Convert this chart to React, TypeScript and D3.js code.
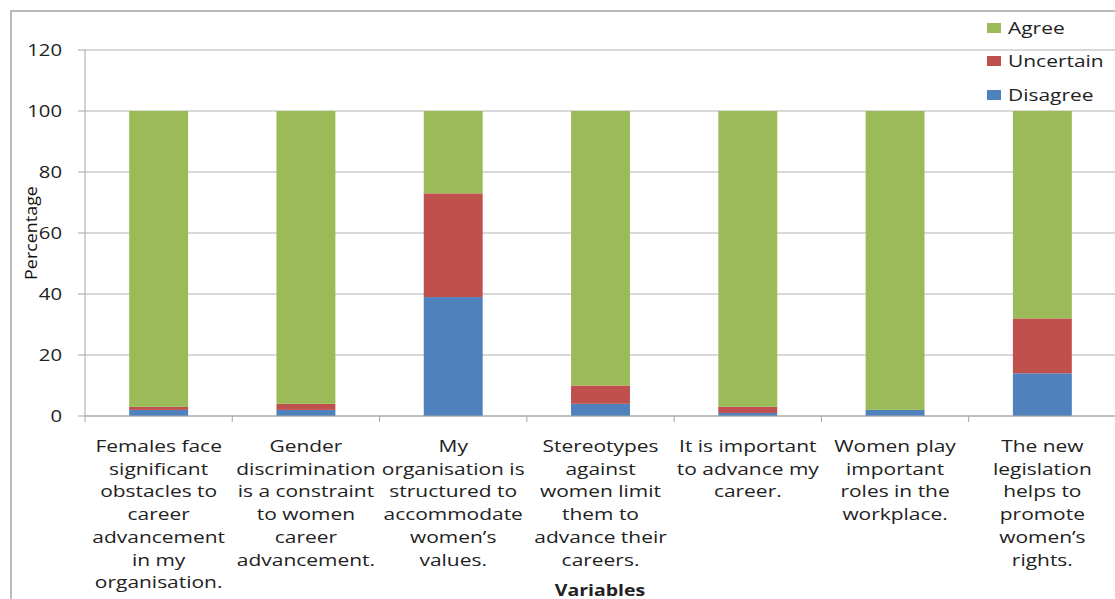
import React from "react";
import * as d3 from "d3";

const categories: string[][] = [
  ["Females face", "significant", "obstacles to", "career", "advancement", "in my", "organisation."],
  ["Gender", "discrimination", "is a constraint", "to women", "career", "advancement."],
  ["My", "organisation is", "structured to", "accommodate", "women\u2019s", "values."],
  ["Stereotypes", "against", "women limit", "them to", "advance their", "careers."],
  ["It is important", "to advance my", "career."],
  ["Women play", "important", "roles in the", "workplace."],
  ["The new", "legislation", "helps to", "promote", "women\u2019s", "rights."],
];

const disagree = [2, 2, 39, 4, 1, 2, 14];
const uncertain = [1, 2, 34, 6, 2, 0, 18];
const agree = [97, 96, 27, 90, 97, 98, 68];

const yTicks = [0, 20, 40, 60, 80, 100, 120];

const seriesNames = ["Disagree", "Uncertain", "Agree"];
const seriesColors = ["#4F81BD", "#C0504D", "#9BBB59"];

const W = 1115;
const H = 599;
const plot = { left: 85, right: 1116, top: 50, bottom: 416 };
const font = "'Open Sans', sans-serif";
// the chart's lettering is set wide
const SX = 1.27;

function WideText({
  x,
  y,
  anchor = "start",
  size = 16.5,
  weight = "normal",
  sx = SX,
  dy,
  children,
}: {
  x: number;
  y: number;
  anchor?: string;
  size?: number;
  weight?: string;
  sx?: number;
  dy?: string;
  children: React.ReactNode;
}) {
  return (
    <g transform={`translate(${x},${y}) scale(${sx},1)`}>
      <text x={0} y={0} dy={dy} textAnchor={anchor} fontSize={size} fontWeight={weight} fill="#222">
        {children}
      </text>
    </g>
  );
}

export default function App() {
  const x = d3
    .scaleBand<number>()
    .domain(categories.map((_, i) => i))
    .range([plot.left, plot.right])
    .paddingInner(0.6)
    .paddingOuter(0.3);
  const step = x.step();
  const y = d3.scaleLinear().domain([0, 120]).range([plot.bottom, plot.top]);

  const rows = categories.map((_, i) => ({
    Disagree: disagree[i],
    Uncertain: uncertain[i],
    Agree: agree[i],
  }));
  const stacked = d3.stack<any>().keys(seriesNames)(rows);

  const legendItems = [
    { name: "Agree", color: seriesColors[2], y: 28 },
    { name: "Uncertain", color: seriesColors[1], y: 61 },
    { name: "Disagree", color: seriesColors[0], y: 95 },
  ];

  return (
    <svg
      width={W}
      height={H}
      style={{ position: "absolute", left: 0, top: 0, background: "#fff" }}
      fontFamily={font}
    >
      <rect x={11} y={11} width={W + 20} height={H + 20} fill="#fff" stroke="#8c8c8c" strokeWidth={1.2} />

      {/* gridlines */}
      {yTicks.map((t) => (
        <line
          key={"g" + t}
          x1={plot.left}
          x2={plot.right}
          y1={y(t)}
          y2={y(t)}
          stroke="#b3b3b3"
          strokeWidth={1}
        />
      ))}

      {/* stacked bars */}
      {stacked.map((s, si) =>
        s.map((d, i) => (
          <rect
            key={si + "-" + i}
            x={x(i)!}
            y={y(d[1])}
            width={x.bandwidth()}
            height={Math.max(0, y(d[0]) - y(d[1]))}
            fill={seriesColors[si]}
          />
        ))
      )}

      {/* y axis */}
      <line x1={plot.left} x2={plot.left} y1={plot.top} y2={plot.bottom} stroke="#a6a6a6" />
      {yTicks.map((t) => (
        <g key={"t" + t}>
          <line x1={plot.left - 7} x2={plot.left} y1={y(t)} y2={y(t)} stroke="#a6a6a6" />
          <WideText x={62} y={y(t)} dy="0.35em" anchor="end" size={16}>
            {t}
          </WideText>
        </g>
      ))}

      {/* x axis */}
      <line x1={plot.left} x2={plot.right} y1={plot.bottom} y2={plot.bottom} stroke="#a6a6a6" strokeWidth={1.2} />
      {d3.range(categories.length + 1).map((k) => (
        <line
          key={"xt" + k}
          x1={plot.left + step * k}
          x2={plot.left + step * k}
          y1={plot.bottom}
          y2={plot.bottom + 6}
          stroke="#a6a6a6"
        />
      ))}

      {/* category labels */}
      {categories.map((lines, i) => {
        const cx = x(i)! + x.bandwidth() / 2;
        return (
          <g key={"c" + i}>
            {lines.map((ln, j) => (
              <WideText key={j} x={cx} y={452 + j * 22.7} anchor="middle" size={16.5}>
                {ln}
              </WideText>
            ))}
          </g>
        );
      })}

      {/* axis titles */}
      <g transform="translate(37,233) rotate(-90) scale(1.12,1)">
        <text x={0} y={0} textAnchor="middle" fontSize={16} fill="#111">
          Percentage
        </text>
      </g>
      <WideText x={600} y={596} anchor="middle" size={16} weight="bold" sx={1.22}>
        Variables
      </WideText>

      {/* legend */}
      {legendItems.map((l) => (
        <g key={l.name}>
          <rect x={987} y={l.y - 5} width={14} height={10} fill={l.color} />
          <WideText x={1008} y={l.y} dy="0.35em" size={16.5}>
            {l.name}
          </WideText>
        </g>
      ))}
    </svg>
  );
}
